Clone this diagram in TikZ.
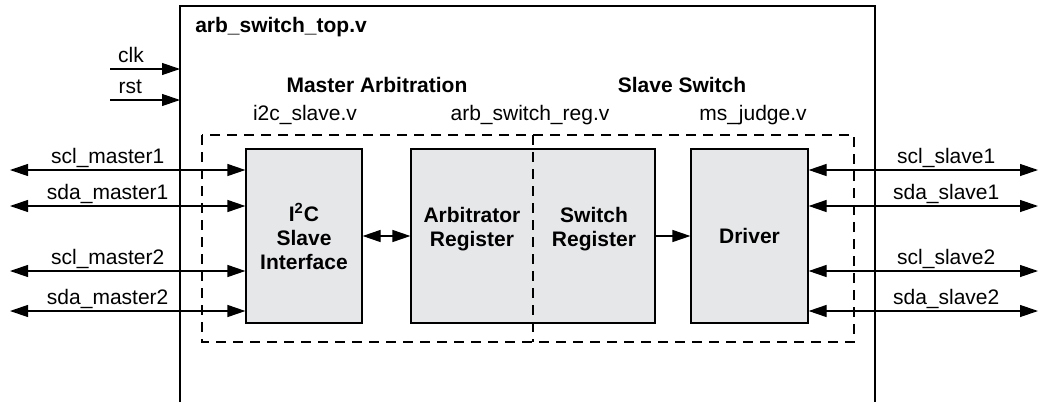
\documentclass[tikz,border=0pt]{standalone}
\usepackage{fontspec}
\setmainfont{Liberation Sans}
\usetikzlibrary{arrows.meta, calc}
\definecolor{blockfill}{RGB}{230,231,233}

\begin{document}
\begin{tikzpicture}[x=0.5pt, y=-0.5pt, >={Triangle[length=9pt, width=6pt]}, line width=0.6pt, font=\fontsize{10.5}{12}\selectfont]

  % --- GENERAL SETTINGS ---
  % Grey module blocks
  \tikzstyle{block}=[draw, fill=blockfill, minimum height=87pt, inner sep=0pt, align=center, font=\fontsize{10.5}{12}\selectfont\bfseries]
  % Dashed grouping of the sub-modules
  \tikzstyle{modgrp}=[dash pattern=on 5pt off 3.5pt]
  % Signal labels above the lines
  \tikzstyle{lbl}=[anchor=base, yshift=3.5pt, inner sep=0pt]
  \tikzstyle{hdr}=[anchor=base, font=\fontsize{10.5}{12}\selectfont\bfseries]

  \useasboundingbox (0,0) rectangle (1039,402);

  % --- TOP MODULE FRAME ---
  \coordinate (topL) at (180,6);
  \coordinate (topR) at (875,6);
  \draw (180,402) -- (topL) -- (topR) -- (875,402);
  \node[hdr, anchor=base west] (title) at (188,32) {arb\_switch\_top.v};

  % clk and rst inputs
  \coordinate (clkin) at (110,69);
  \coordinate (rstin) at (110,100);
  \draw [->] (clkin) -- (clkin -| topL) node[lbl, pos=0.3] {clk};
  \draw [->] (rstin) -- (rstin -| topL) node[lbl, pos=0.29] {rst};

  % --- GROUP TITLES AND FILE NAMES ---
  \node[hdr] (mstarb) at (377,92) {Master Arbitration};
  \node[hdr] (slvsw) at (682,92) {Slave Switch};
  \node[anchor=base] (f1) at (305,120) {i2c\_slave.v};
  \node[anchor=base] (f2) at (530,120) {arb\_switch\_reg.v};
  \node[anchor=base] (f3) at (753,120) {ms\_judge.v};

  % --- DASHED GROUP ---
  \draw [modgrp] (202,135) rectangle (854,342);

  % --- BLOCKS ---
  \node[block, minimum width=58pt] (i2c) at (304,236) {I\textsuperscript{2}C\\Slave\\Interface};
  \node[block, minimum width=122pt] (arb) at (533,236) {};
  \node[block, minimum width=58.5pt] (drv) at (749.5,236) {Driver};

  % split line across the register block
  \draw [modgrp] (533,135) -- (533,342);
  \node[hdr, anchor=center, align=center] (arbtxt) at (472,229) {Arbitrator\\Register};
  \node[hdr, anchor=center, align=center] (swtxt) at (594,229) {Switch\\Register};

  % Block connections
  \draw [<->] (i2c) -- (arb);
  \draw [->] (arb) -- (drv);

  % --- MASTER SIDE SIGNALS ---
  \foreach \n/\yy/\txt in {1/170/scl\_master1, 2/206/sda\_master1, 3/271/scl\_master2, 4/311/sda\_master2} {
    \coordinate (mst\n) at (10,\yy);
    \draw [<->] (mst\n) -- (mst\n -| i2c.west) node[lbl, pos=0.415] {\txt};
  }

  % --- SLAVE SIDE SIGNALS ---
  \foreach \n/\yy/\txt in {1/170/scl\_slave1, 2/206/sda\_slave1, 3/271/scl\_slave2, 4/311/sda\_slave2} {
    \coordinate (slv\n) at (1038,\yy);
    \draw [<->] (slv\n -| drv.east) -- (slv\n) node[lbl, pos=0.6] {\txt};
  }

\end{tikzpicture}
\end{document}
